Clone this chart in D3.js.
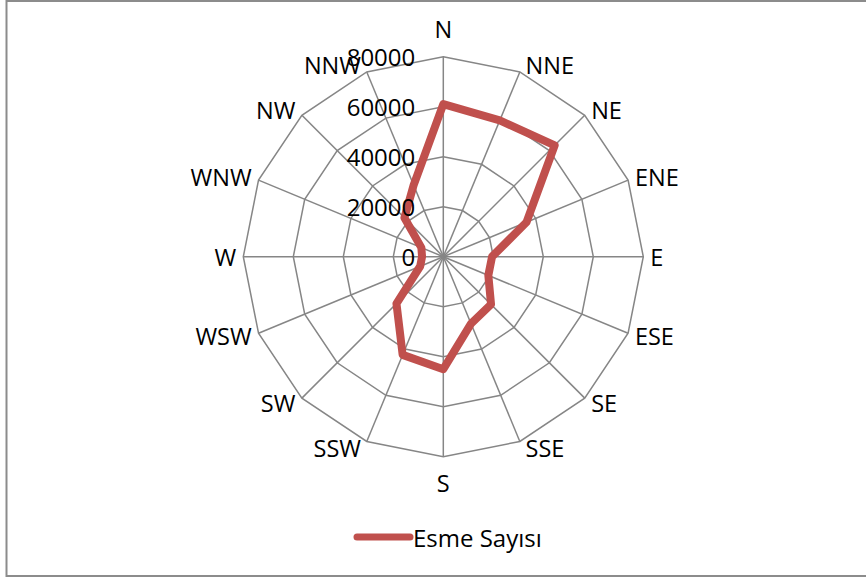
<!DOCTYPE html>
<html>
<head>
<meta charset="utf-8">
<script src="https://cdn.jsdelivr.net/npm/d3@7"></script>
<style>
  html, body { margin: 0; padding: 0; background: #fff; }
  svg { display: block; font-family: "Open Sans", "Noto Sans", sans-serif; }
</style>
</head>
<body>
<svg id="chart" width="866" height="578"></svg>
<script>
const directions = ["N","NNE","NE","ENE","E","ESE","SE","SSE","S","SSW","SW","WSW","W","WNW","NW","NNW"];
const esmeSayisi = [61000,59000,63000,36000,19500,19500,27000,29000,45000,42500,26500,10000,8500,9500,22000,31000];
const tickValues = [0,20000,40000,60000,80000];
const seriesName = "Esme Sayısı";

const svg = d3.select("#chart");
const cx = 443.3, cy = 256.7, R = 200;
const gridColor = "#868686";
const lineColor = "#C0504D";
const fs = 23.5;

// frame
svg.append("rect").attr("x", 6.5).attr("y", 1).attr("width", 900).attr("height", 575)
  .attr("fill", "#fff").attr("stroke", "#8c8c8c").attr("stroke-width", 2);

const r = d3.scaleLinear().domain([0, 80000]).range([0, R]);
const angle = d3.scaleBand().domain(directions).range([0, 2 * Math.PI]);
const ang = d => angle(d); // 0 at N, clockwise
const px = (d, v) => cx + r(v) * Math.sin(ang(d));
const py = (d, v) => cy - r(v) * Math.cos(ang(d));

const g = svg.append("g");

// rings
tickValues.filter(t => t > 0).forEach(t => {
  g.append("polygon")
    .attr("points", directions.map(d => [px(d, t), py(d, t)].join(",")).join(" "))
    .attr("fill", "none").attr("stroke", gridColor).attr("stroke-width", 1.5);
});
// spokes
directions.forEach(d => {
  g.append("line").attr("x1", cx).attr("y1", cy)
    .attr("x2", px(d, 80000)).attr("y2", py(d, 80000))
    .attr("stroke", gridColor).attr("stroke-width", 1.5);
});

// data line
const lineGen = d3.lineRadial()
  .angle((v, i) => ang(directions[i]))
  .radius(v => r(v))
  .curve(d3.curveLinearClosed);
g.append("path")
  .attr("transform", `translate(${cx},${cy})`)
  .attr("d", lineGen(esmeSayisi))
  .attr("fill", "none").attr("stroke", lineColor).attr("stroke-width", 8)
  .attr("stroke-linejoin", "round");

// tick labels
tickValues.forEach(t => {
  g.append("text").attr("x", cx - 28).attr("y", cy - r(t))
    .attr("text-anchor", "end").attr("dominant-baseline", "central")
    .attr("font-size", fs + 0.5).attr("fill", "#000").text(t);
});

// direction labels
directions.forEach(d => {
  const a = ang(d), s = Math.sin(a), c = Math.cos(a);
  const vx = px(d, 80000), vy = py(d, 80000);
  const t = g.append("text").attr("font-size", fs).attr("fill", "#000");
  if (Math.abs(s) < 0.01) {
    t.attr("x", vx).attr("text-anchor", "middle");
    if (c > 0) t.attr("y", vy - 18.5); else t.attr("y", vy + 35);
  } else {
    t.attr("x", vx + 5 * Math.sign(s) + 2 * s).attr("text-anchor", s > 0 ? "start" : "end")
      .attr("y", vy - 7 * c).attr("dominant-baseline", "central");
  }
  t.text(d);
});

// legend
const lg = svg.append("g");
lg.append("line").attr("x1", 357).attr("x2", 410).attr("y1", 537).attr("y2", 537)
  .attr("stroke", lineColor).attr("stroke-width", 7).attr("stroke-linecap", "round");
lg.append("text").attr("x", 413).attr("y", 537).attr("dominant-baseline", "central")
  .attr("font-size", fs + 0.5).attr("fill", "#000").text(seriesName);
</script>
</body>
</html>
